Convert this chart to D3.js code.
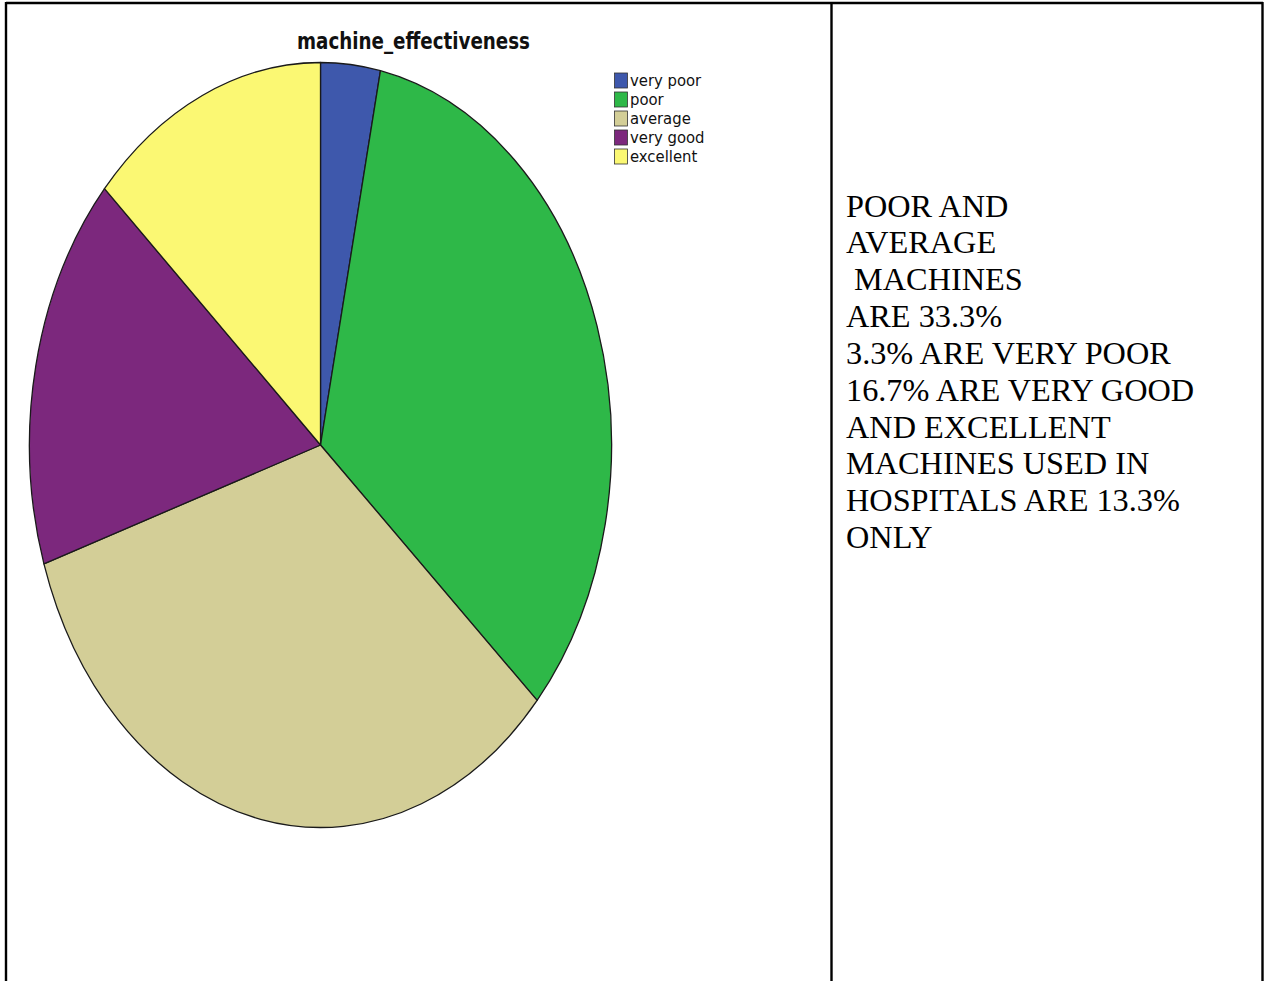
<!DOCTYPE html>
<html>
<head>
<meta charset="utf-8">
<script src="https://cdn.jsdelivr.net/npm/d3@7"></script>
<style>
  html, body { margin: 0; padding: 0; background: #fff; }
  svg { display: block; }
</style>
</head>
<body>
<svg id="chart" width="1269" height="981"></svg>
<script>
// Categories and their shares (percent of machines)
const categories = ["very poor", "poor", "average", "very good", "excellent"];
const shares = [3.3, 33.3, 33.3, 16.7, 13.3];
const sliceColors = ["#3e58ac", "#2eb848", "#d3ce97", "#7c287d", "#fbf873"];
const chartTitle = "machine_effectiveness";
const noteLines = [
  "POOR AND",
  "AVERAGE",
  "\u00a0MACHINES",
  "ARE 33.3%",
  "3.3% ARE VERY POOR",
  "16.7% ARE VERY GOOD",
  "AND EXCELLENT",
  "MACHINES USED IN",
  "HOSPITALS ARE 13.3%",
  "ONLY"
];

const svg = d3.select("#chart");
const W = 1269, H = 981;

// Table grid: two cells, open at the bottom
const grid = svg.append("g").attr("stroke", "#000").attr("stroke-width", 2.4);
grid.append("line").attr("x1", 6).attr("x2", 1263).attr("y1", 3).attr("y2", 3);
[6, 831.5, 1262.5].forEach(x =>
  grid.append("line").attr("x1", x).attr("x2", x).attr("y1", 2).attr("y2", H));

// Pie, drawn on a circle and stretched horizontally into an ellipse
const cx = 320.5, cy = 445, rx = 291, ry = 382.5;
const pie = d3.pie().sort(null).value(d => d);
const arc = d3.arc().innerRadius(0).outerRadius(ry);
const color = d3.scaleOrdinal().domain(categories).range(sliceColors);

const pieG = svg.append("g")
  .attr("transform", `translate(${cx},${cy}) scale(${rx / ry},1)`);
pieG.selectAll("path")
  .data(pie(shares))
  .join("path")
  .attr("d", arc)
  .attr("fill", (d, i) => color(categories[i]))
  .attr("stroke", "#1a1a1a")
  .attr("stroke-width", 1.3)
  .attr("stroke-linejoin", "round")
  .attr("vector-effect", "non-scaling-stroke");

// Title
svg.append("text")
  .attr("x", 413.5)
  .attr("y", 49)
  .attr("text-anchor", "middle")
  .attr("font-family", "'Liberation Sans Narrow', 'DejaVu Sans Condensed', sans-serif")
  .attr("font-weight", "bold")
  .attr("font-size", 23)
  .attr("textLength", 233)
  .attr("lengthAdjust", "spacingAndGlyphs")
  .attr("fill", "#111")
  .text(chartTitle);

// Legend
const legendY = d3.scalePoint().domain(categories).range([80.5, 156.5]);
const legend = svg.append("g");
const item = legend.selectAll("g")
  .data(categories)
  .join("g")
  .attr("transform", d => `translate(614,${legendY(d)})`);
item.append("rect")
  .attr("x", 0.5).attr("y", -7.5)
  .attr("width", 13).attr("height", 15)
  .attr("fill", d => color(d))
  .attr("stroke", "#333")
  .attr("stroke-width", 0.8);
item.append("text")
  .attr("x", 16)
  .attr("y", 5.5)
  .attr("font-family", "'Liberation Sans Narrow', 'DejaVu Sans Condensed', sans-serif")
  .attr("font-size", 16.5)
  .attr("fill", "#111")
  .text(d => d);

// Notes in the right-hand cell
const noteY = d3.scaleLinear().domain([0, noteLines.length - 1]).range([216.5, 548]);
svg.append("g")
  .selectAll("text")
  .data(noteLines)
  .join("text")
  .attr("x", 846)
  .attr("y", (d, i) => noteY(i))
  .attr("font-family", "'Liberation Serif', 'Times New Roman', serif")
  .attr("font-size", 32.3)
  .attr("fill", "#000")
  .style("white-space", "pre")
  .text(d => d);
</script>
</body>
</html>
